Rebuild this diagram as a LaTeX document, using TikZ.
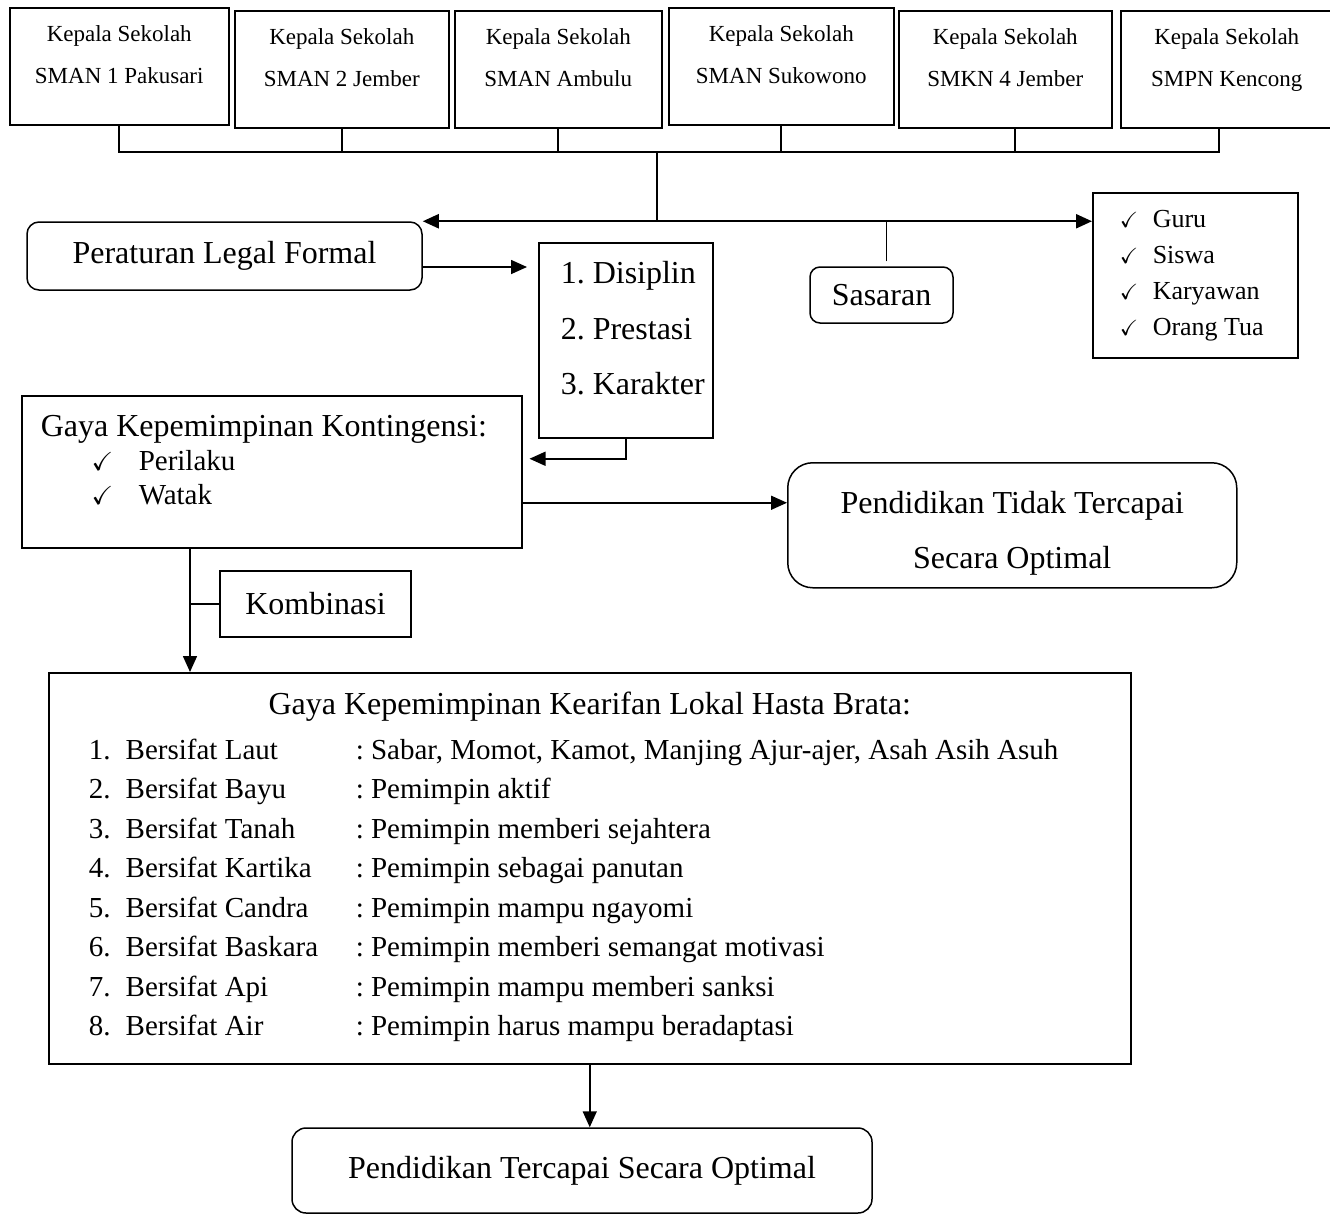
\documentclass[tikz,border=0pt]{standalone}
\usepackage{amssymb}
\usepackage{fontspec}
\setmainfont{Liberation Serif}
\frenchspacing
\usetikzlibrary{arrows.meta}
\newcommand{\cek}[1]{{\fontsize{#1}{#1}\selectfont$\checkmark$}}

\begin{document}
\begin{tikzpicture}[x=1pt, y=-1pt,
    kotak/.style={draw, line width=1.5pt, inner sep=0pt},
    bulat/.style={kotak, rounded corners=12pt},
    kepala/.style={kotak, anchor=north west, align=flush center, text height=34pt, text depth=83pt, font=\fontsize{23}{42}\selectfont},
    besar/.style={font=\fontsize{32}{38}\selectfont},
    garis/.style={line width=1.6pt},
    panah/.style={garis, -{Triangle[length=16pt,width=14pt]}}]
    \useasboundingbox (0,0) rectangle (1330,1216);

    % kepala sekolah
    \node[kepala, text width=219pt] (k1) at (9,7) {Kepala Sekolah\\SMAN 1 Pakusari};
    \node[kepala, text width=214pt] (k2) at (234,10) {Kepala Sekolah\\SMAN 2 Jember};
    \node[kepala, text width=207pt] (k3) at (454,10) {Kepala Sekolah\\SMAN Ambulu};
    \node[kepala, text width=225pt] (k4) at (668,7) {Kepala Sekolah\\SMAN Sukowono};
    \node[kepala, text width=213pt] (k5) at (898,10) {Kepala Sekolah\\SMKN 4 Jember};
    \node[kepala, text width=212pt] (k6) at (1120,10) {Kepala Sekolah\\SMPN Kencong};

    \node[bulat, besar, minimum width=395pt, minimum height=68pt] (per) at (224.5,256) {Peraturan Legal Formal};
    \node[kotak, anchor=north west, text width=130pt, inner xsep=22pt, align=flush left, text height=41pt, text depth=154pt, font=\fontsize{32}{55.5}\selectfont] (dis) at (538,242) {\mbox{1. Disiplin}\\\mbox{2. Prestasi}\\\mbox{3. Karakter}};
    \node[bulat, besar, rounded corners=10pt, minimum width=143pt, minimum height=56pt] (sas) at (881.5,295) {Sasaran};
    \node[kotak, anchor=north west, text width=205pt, align=flush left, text height=35pt, text depth=130pt, font=\fontsize{26}{36}\selectfont] (guru) at (1092,192) {\hspace*{27pt}\makebox[33pt][l]{\cek{22}}Guru\\
        \hspace*{27pt}\makebox[33pt][l]{\cek{22}}Siswa\\
        \hspace*{27pt}\makebox[33pt][l]{\cek{22}}Karyawan\\
        \hspace*{27pt}\makebox[33pt][l]{\cek{22}}Orang Tua};

    \node[kotak, anchor=north west, text width=462pt, inner xsep=19pt, align=flush left, text height=41pt, text depth=111pt, font=\fontsize{32}{34}\selectfont] (gaya) at (21,395) {Gaya Kepemimpinan Kontingensi:\\
        {\fontsize{29}{34}\selectfont\hspace*{51pt}\makebox[47pt][l]{\cek{26}}Perilaku}\\
        {\fontsize{29}{34}\selectfont\hspace*{51pt}\makebox[47pt][l]{\cek{26}}Watak}};
    \node[bulat, rounded corners=25pt, anchor=north west, text width=449pt, align=flush center, text height=51pt, text depth=74pt, font=\fontsize{32}{55}\selectfont] (tidak) at (787,462) {Pendidikan Tidak Tercapai\\Secara Optimal};
    \node[kotak, besar, minimum width=191pt, minimum height=66pt] (kom) at (315.5,604) {Kombinasi};

    \node[kotak, anchor=north west, text width=1082pt, align=flush left, text height=42pt, text depth=349pt, font=\fontsize{32}{39.5}\selectfont] (hasta) at (48,672) {{\centering Gaya Kepemimpinan Kearifan Lokal Hasta Brata:\par}
        \vspace{5pt}
        {\fontsize{29}{39.5}\selectfont
        \begin{tabular}[t]{@{\hspace{40pt}}p{37pt}@{}p{230pt}@{}l@{}}
            1. & Bersifat Laut & : Sabar, Momot, Kamot, Manjing Ajur-ajer, Asah Asih Asuh\\
            2. & Bersifat Bayu & : Pemimpin aktif\\
            3. & Bersifat Tanah & : Pemimpin memberi sejahtera\\
            4. & Bersifat Kartika & : Pemimpin sebagai panutan\\
            5. & Bersifat Candra & : Pemimpin mampu ngayomi\\
            6. & Bersifat Baskara & : Pemimpin memberi semangat motivasi\\
            7. & Bersifat Api & : Pemimpin mampu memberi sanksi\\
            8. & Bersifat Air & : Pemimpin harus mampu beradaptasi
        \end{tabular}\par}};
    \node[bulat, besar, rounded corners=14pt, minimum width=580pt, minimum height=85pt] (hasil) at (582,1170.5) {Pendidikan Tercapai Secara Optimal};

    % garis kepala sekolah
    \coordinate (bus) at (657,152);
    \coordinate (t5) at ([xshift=10pt]k5.south);
    \coordinate (t6) at ([xshift=-8pt]k6.south);
    \draw[garis] (k1.south) |- (t6 |- bus) -- (t6);
    \foreach \k in {k2.south,k3.south,k4.south,t5}
        \draw[garis] (\k) -- (\k |- bus);
    \coordinate (pusat) at (bus |- per.north east);
    \draw[garis] (bus) -- (pusat);
    \draw[garis, line width=2.2pt, {Triangle[length=16pt,width=14pt]}-{Triangle[length=16pt,width=14pt]}] (per.north east) -- (per.north east -| guru.west);
    \coordinate (s1) at ([xshift=5pt,yshift=5pt]sas.north);
    \draw[garis] (s1) -- (s1 |- pusat);

    % panah
    \coordinate (p1) at ([yshift=-11pt]per.east);
    \coordinate (p2) at ([xshift=-11pt]dis.west);
    \draw[panah] (p1) -- (p2 |- p1);
    \coordinate (g0) at ([xshift=7pt,yshift=13pt]gaya.east);
    \draw[panah] (dis.south) |- (g0);
    \coordinate (g1) at ([yshift=-31pt]gaya.east);
    \draw[panah] (g1) -- (g1 -| tidak.west);
    \coordinate (g2) at ([xshift=169pt]gaya.south west);
    \draw[panah] (g2) -- (g2 |- hasta.north);
    \draw[garis] (kom.west) -- (kom.west -| g2);
    \draw[panah] (hasta.south) -- (hasta.south |- hasil.north);
\end{tikzpicture}
\end{document}
